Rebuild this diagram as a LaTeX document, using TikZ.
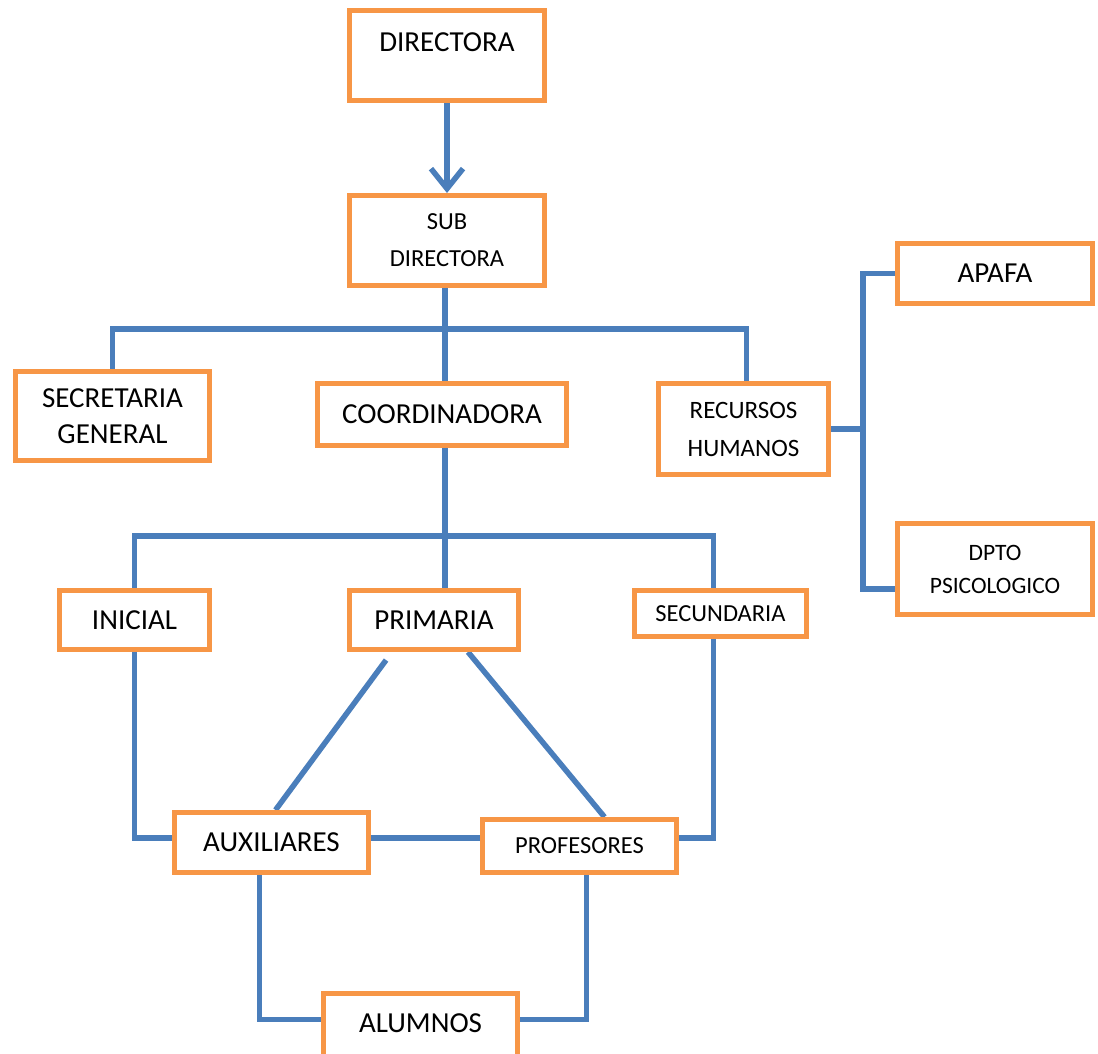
\documentclass[tikz,border=0pt]{standalone}
\usepackage{fontspec}
\setmainfont{Carlito}
\usetikzlibrary{arrows.meta,backgrounds}
\definecolor{boxorange}{RGB}{247,150,70}
\definecolor{linkblue}{RGB}{74,126,187}
\tikzset{
    cargo/.style={draw=boxorange, line width=5pt, inner sep=0pt, align=center},
    bigtext/.style={font=\fontsize{29}{36}\selectfont},
    smalltext/.style={font=\fontsize{24.5}{37}\selectfont},
    link/.style={draw=linkblue, line width=5.5pt},
}
\begin{document}
\begin{tikzpicture}[x=1pt,y=-1pt]
    \useasboundingbox (0,0) rectangle (1098,1053);

    % top of the chart
    \node [cargo,bigtext,minimum width=195,minimum height=90] (dir) at (447,55.5) {\raisebox{26pt}{DIRECTORA}};
    \node [cargo,smalltext,minimum width=195,minimum height=90] (sub) at (447,240.5) {SUB\\DIRECTORA};

    \node [cargo,bigtext,minimum width=194,minimum height=89] (sec) at (112.5,416) {SECRETARIA\\GENERAL};
    \node [cargo,bigtext,minimum width=249,minimum height=62] (coord) at (442,414.5) {COORDINADORA};
    \node [cargo,font=\fontsize{25}{38}\selectfont,minimum width=170,minimum height=91] (rrhh) at (743.5,429) {RECURSOS\\HUMANOS};

    \node [cargo,bigtext,minimum width=195,minimum height=60] (apafa) at (995,273.5) {APAFA};
    \node [cargo,font=\fontsize{23.5}{33}\selectfont,minimum width=195,minimum height=91] (dpto) at (995,569) {DPTO\\PSICOLOGICO};

    % levels
    \node [cargo,bigtext,minimum width=150,minimum height=59] (ini) at (134.5,620) {INICIAL};
    \node [cargo,bigtext,minimum width=169,minimum height=59] (prim) at (434,620) {PRIMARIA};
    \node [cargo,smalltext,minimum width=172,minimum height=46] (secu) at (720.5,613.5) {SECUNDARIA};

    \node [cargo,bigtext,minimum width=194,minimum height=60] (aux) at (271.5,842.5) {AUXILIARES};
    \node [cargo,smalltext,minimum width=194,minimum height=53] (prof) at (579.5,846) {PROFESORES};
    \node [cargo,bigtext,minimum width=194,minimum height=70] (alum) at (420.5,1028.5) {\raisebox{10pt}{ALUMNOS}};

    \coordinate (bar1) at (445,329);
    \coordinate (bar2) at (445,536);
    \coordinate (brk) at (863,429);

    \begin{scope}[on background layer]
    \draw [link,-{Straight Barb[length=20pt,width=32pt]}] (dir.south) -- (sub.north);
    \draw [link] (sub.south -| bar1) -- (coord.north -| bar1);
    \draw [link] (sec.north) |- (bar1) -| ([xshift=3pt]rrhh.north);

    \draw [link] (rrhh.east) -- (brk);
    \draw [link] (apafa.west) -| (brk) |- ([yshift=-20pt]dpto.west);

    \draw [link] (coord.south -| bar2) -- (prim.north -| bar2);
    \draw [link] (ini.north) |- (bar2) -| ([xshift=-7pt]secu.north);

    \draw [link] (ini.south) |- ([yshift=4.5pt]aux.west);
    \draw [link] ([yshift=4.5pt]aux.east) -- ([yshift=8pt]prof.west);
    \draw [link] ([xshift=-7pt]secu.south) |- ([yshift=8pt]prof.east);
    \draw [link,shorten <=10pt] ([xshift=-42pt]prim.south) -- ([xshift=4pt]aux.north);
    \draw [link] ([xshift=34pt]prim.south) -- ([xshift=25pt]prof.north);

    \draw [link] ([xshift=-12pt]aux.south) |- ([yshift=9pt]alum.west);
    \draw [link] ([xshift=7pt]prof.south) |- ([yshift=9pt]alum.east);
    \end{scope}
\end{tikzpicture}
\end{document}
